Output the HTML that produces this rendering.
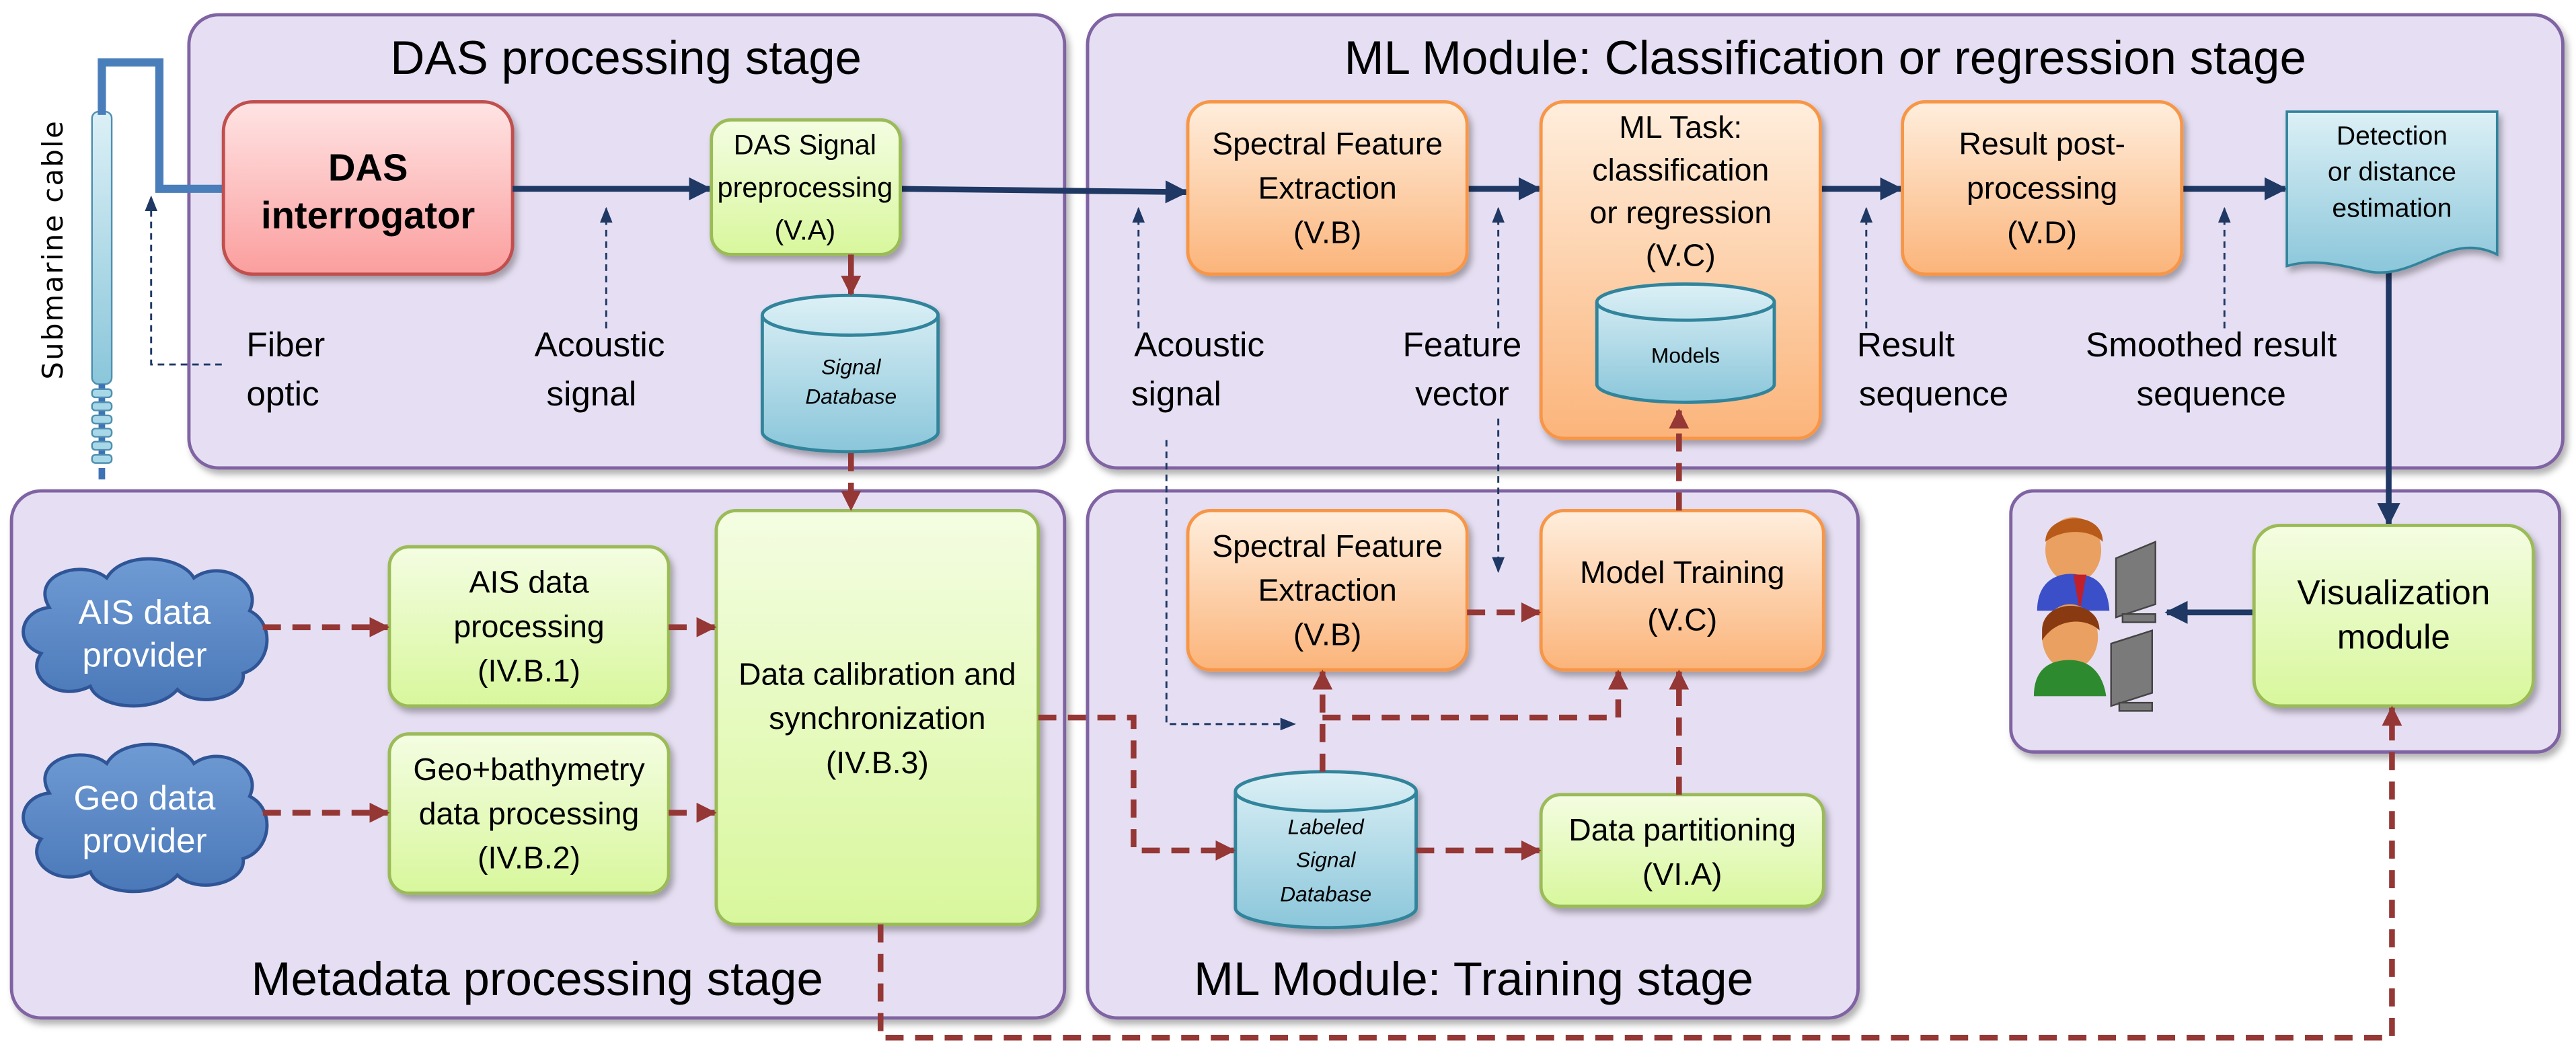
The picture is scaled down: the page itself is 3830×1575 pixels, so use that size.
<!DOCTYPE html>
<html><head><meta charset="utf-8"><style>
html,body{margin:0;padding:0;background:#fff;}
svg{display:block;}
text{font-family:"Liberation Sans Narrow","Liberation Sans",sans-serif;fill:#000;}
</style></head><body>
<svg width="3830" height="1575" viewBox="0 0 1568 645" preserveAspectRatio="none" xmlns="http://www.w3.org/2000/svg">
<defs>
<linearGradient id="gr" x1="0" y1="0" x2="0" y2="1"><stop offset="0" stop-color="#ffe4e4"/><stop offset="1" stop-color="#fb9e9e"/></linearGradient>
<linearGradient id="gg" x1="0" y1="0" x2="0" y2="1"><stop offset="0" stop-color="#f4fde2"/><stop offset="1" stop-color="#d8f79c"/></linearGradient>
<linearGradient id="go" x1="0" y1="0" x2="0" y2="1"><stop offset="0" stop-color="#ffeedd"/><stop offset="1" stop-color="#fbb47a"/></linearGradient>
<linearGradient id="gb" x1="0" y1="0" x2="0" y2="1"><stop offset="0" stop-color="#dcf0f6"/><stop offset="1" stop-color="#8ac6da"/></linearGradient>
<linearGradient id="gc" x1="0" y1="0" x2="0" y2="1"><stop offset="0" stop-color="#6f9bd4"/><stop offset="1" stop-color="#4a78b8"/></linearGradient>
<filter id="sh" x="-10%" y="-10%" width="130%" height="130%"><feDropShadow dx="2" dy="3" stdDeviation="2" flood-color="#000" flood-opacity="0.3"/></filter>
<marker id="an" viewBox="0 0 10 10" refX="9" refY="5" markerWidth="4" markerHeight="4" orient="auto"><path d="M0,0L10,5L0,10z" fill="#1f3864"/></marker>
<marker id="ant" viewBox="0 0 10 10" refX="9" refY="5" markerWidth="8" markerHeight="8" orient="auto"><path d="M0,1L10,5L0,9z" fill="#1f3864"/></marker>
<marker id="ar" viewBox="0 0 10 10" refX="9" refY="5" markerWidth="3.5" markerHeight="3.5" orient="auto"><path d="M0,0L10,5L0,10z" fill="#953735"/></marker>
</defs>

<g fill="#e6dff3" stroke="#8064a2" stroke-width="2" filter="url(#sh)">
<rect x="115" y="9" width="533" height="276" rx="18"/>
<rect x="662" y="9" width="898" height="276" rx="18"/>
<rect x="7" y="299" width="641" height="321" rx="18"/>
<rect x="662" y="299" width="469" height="321" rx="18"/>
<rect x="1224" y="299" width="334" height="159" rx="14"/>
</g>
<g font-size="29" text-anchor="middle">
<text x="381" y="45">DAS processing stage</text>
<text x="1111" y="45">ML Module: Classification or regression stage</text>
<text x="327" y="606">Metadata processing stage</text>
<text x="897" y="606">ML Module: Training stage</text>
</g>

<text x="38" y="152" font-size="17" text-anchor="middle" transform="rotate(-90 38 152)" style="font-family:'DejaVu Sans',sans-serif;letter-spacing:1px">Submarine cable</text>
<rect x="56" y="68" width="12" height="166" rx="4" fill="url(#gb)" stroke="#4f90b0" stroke-width="1"/>
<line x1="62" y1="234" x2="62" y2="282" stroke="#3e72b5" stroke-width="4"/>
<line x1="62" y1="285" x2="62" y2="292" stroke="#3e72b5" stroke-width="4"/>
<g fill="#a8d8e8" stroke="#4f90b0" stroke-width="1">
<rect x="56" y="237" width="12" height="5" rx="2"/><rect x="56" y="245" width="12" height="5" rx="2"/><rect x="56" y="253" width="12" height="5" rx="2"/>
<rect x="56" y="261" width="12" height="5" rx="2"/><rect x="56" y="269" width="12" height="5" rx="2"/><rect x="56" y="277" width="12" height="5" rx="2"/>
</g>
<path d="M62,70 V38 H97 V115 H136" fill="none" stroke="#4a7ebb" stroke-width="5"/>
<path d="M135,222 H92 V120" fill="none" stroke="#1f3864" stroke-width="1.2" stroke-dasharray="4 3" marker-end="url(#ant)"/>

<rect x="136" y="62" width="176" height="105" rx="18" fill="url(#gr)" stroke="#c0504d" stroke-width="2" filter="url(#sh)"/>
<text x="224" y="110" font-size="23" font-weight="bold" text-anchor="middle">DAS</text>
<text x="224" y="139" font-size="23" font-weight="bold" text-anchor="middle">interrogator</text>
<text x="150" y="217" font-size="21">Fiber</text><text x="150" y="247" font-size="21">optic</text>
<text x="365" y="217" font-size="21" text-anchor="middle">Acoustic</text><text x="360" y="247" font-size="21" text-anchor="middle">signal</text>

<g stroke="#1f3864" stroke-width="3.5" fill="none" marker-end="url(#an)">
<line x1="312" y1="115" x2="432" y2="115"/>
<line x1="548" y1="115" x2="722" y2="117"/>
<line x1="893" y1="115" x2="937" y2="115"/>
<line x1="1108" y1="115" x2="1157" y2="115"/>
<line x1="1328" y1="115" x2="1391" y2="115"/>
<line x1="1454" y1="160" x2="1454" y2="319"/>
<line x1="1372" y1="373" x2="1319" y2="373"/>
</g>
<g stroke="#1f3864" stroke-width="1.2" stroke-dasharray="4 3" fill="none" marker-end="url(#ant)">
<line x1="369" y1="200" x2="369" y2="127"/>
<line x1="693" y1="200" x2="693" y2="127"/>
<line x1="912" y1="200" x2="912" y2="127"/>
<line x1="1136" y1="200" x2="1136" y2="127"/>
<line x1="1354" y1="200" x2="1354" y2="127"/>
<path d="M710,268 V441 H788"/>
<line x1="912" y1="255" x2="912" y2="348"/>
</g>

<rect x="433" y="73" width="115" height="82" rx="12" fill="url(#gg)" stroke="#9bbb59" stroke-width="2" filter="url(#sh)"/>
<g font-size="17" text-anchor="middle"><text x="490" y="94">DAS Signal</text><text x="490" y="120">preprocessing</text><text x="490" y="146">(V.A)</text></g>

<g fill="url(#gb)" stroke="#31849b" stroke-width="2" filter="url(#sh)">
<path d="M464,192 V263 A53,12 0 0 0 571,263 V192 A53,12 0 0 0 464,192 Z"/>
<path d="M752,482 V553 A55,12 0 0 0 862,553 V482 A55,12 0 0 0 752,482 Z"/>
</g>
<g fill="none" stroke="#31849b" stroke-width="2">
<path d="M464,192 A53,12 0 0 0 571,192"/><path d="M752,482 A55,12 0 0 0 862,482"/>
</g>
<g font-size="13" font-style="italic" text-anchor="middle">
<text x="518" y="228">Signal</text><text x="518" y="246">Database</text>
<text x="807" y="508">Labeled</text><text x="807" y="528">Signal</text><text x="807" y="549">Database</text>
</g>

<g fill="url(#go)" stroke="#f79646" stroke-width="2" filter="url(#sh)">
<rect x="723" y="62" width="170" height="105" rx="14"/>
<rect x="1158" y="62" width="170" height="105" rx="14"/>
<rect x="723" y="311" width="170" height="97" rx="14"/>
<rect x="938" y="311" width="172" height="97" rx="14"/>
<rect x="938" y="62" width="170" height="205" rx="14"/>
</g>
<g fill="url(#gb)" stroke="#31849b" stroke-width="2"><path d="M972,184 V234 A54,11 0 0 0 1080,234 V184 A54,11 0 0 0 972,184 Z"/></g>
<path d="M972,184 A54,11 0 0 0 1080,184" fill="none" stroke="#31849b" stroke-width="2"/>
<text x="1026" y="221" font-size="13" text-anchor="middle">Models</text>
<g font-size="19" text-anchor="middle">
<text x="808" y="94">Spectral Feature</text><text x="808" y="121">Extraction</text><text x="808" y="148">(V.B)</text>
<text x="1023" y="84">ML Task:</text><text x="1023" y="110">classification</text><text x="1023" y="136">or regression</text><text x="1023" y="162">(V.C)</text>
<text x="1243" y="94">Result post-</text><text x="1243" y="121">processing</text><text x="1243" y="148">(V.D)</text>
<text x="808" y="339">Spectral Feature</text><text x="808" y="366">Extraction</text><text x="808" y="393">(V.B)</text>
<text x="1024" y="355">Model Training</text><text x="1024" y="384">(V.C)</text>
</g>

<path d="M1392,68 H1520 V155 C1490,140 1470,172 1440,165 C1420,160 1405,158 1392,162 Z" fill="url(#gb)" stroke="#31849b" stroke-width="1.5" filter="url(#sh)"/>
<g font-size="16" text-anchor="middle"><text x="1456" y="88">Detection</text><text x="1456" y="110">or distance</text><text x="1456" y="132">estimation</text></g>

<g font-size="21" text-anchor="middle">
<text x="730" y="217">Acoustic</text><text x="716" y="247">signal</text>
<text x="890" y="217">Feature</text><text x="890" y="247">vector</text>
<text x="1160" y="217">Result</text><text x="1177" y="247">sequence</text>
<text x="1346" y="217">Smoothed result</text><text x="1346" y="247">sequence</text>
</g>

<g fill="url(#gc)" stroke="#2f5597" stroke-width="2">
<path d="M30,370 C18,350 50,340 65,352 C75,335 110,338 118,352 C135,340 160,355 152,372 C168,380 165,405 148,410 C150,425 120,432 108,420 C95,435 60,432 55,418 C35,428 15,412 25,398 C8,392 12,372 30,370 Z"/>
<path d="M30,483 C18,463 50,453 65,465 C75,448 110,451 118,465 C135,453 160,468 152,485 C168,493 165,518 148,523 C150,538 120,545 108,533 C95,548 60,545 55,531 C35,541 15,525 25,511 C8,505 12,485 30,483 Z"/>
</g>
<g font-size="21" text-anchor="middle">
<text x="88" y="380" style="fill:#fff">AIS data</text><text x="88" y="406" style="fill:#fff">provider</text>
<text x="88" y="493" style="fill:#fff">Geo data</text><text x="88" y="519" style="fill:#fff">provider</text>
</g>

<g fill="url(#gg)" stroke="#9bbb59" stroke-width="2" filter="url(#sh)">
<rect x="237" y="333" width="170" height="97" rx="12"/>
<rect x="237" y="447" width="170" height="97" rx="12"/>
<rect x="436" y="311" width="196" height="252" rx="12"/>
<rect x="938" y="484" width="172" height="68" rx="12"/>
<rect x="1372" y="320" width="170" height="110" rx="16"/>
</g>
<g font-size="19" text-anchor="middle">
<text x="322" y="361">AIS data</text><text x="322" y="388">processing</text><text x="322" y="415">(IV.B.1)</text>
<text x="322" y="475">Geo+bathymetry</text><text x="322" y="502">data processing</text><text x="322" y="529">(IV.B.2)</text>
<text x="534" y="417">Data calibration and</text><text x="534" y="444">synchronization</text><text x="534" y="471">(IV.B.3)</text>
<text x="1024" y="512">Data partitioning</text><text x="1024" y="539">(VI.A)</text>
<text x="1457" y="368" font-size="21">Visualization</text><text x="1457" y="395" font-size="21">module</text>
</g>

<line x1="518" y1="155" x2="518" y2="179" stroke="#953735" stroke-width="3.5" marker-end="url(#ar)"/>
<g stroke="#953735" stroke-width="3.5" fill="none" stroke-dasharray="11 7" marker-end="url(#ar)">
<line x1="518" y1="276" x2="518" y2="310"/>
<line x1="160" y1="382" x2="236" y2="382"/>
<line x1="407" y1="382" x2="435" y2="382"/>
<line x1="160" y1="495" x2="236" y2="495"/>
<line x1="407" y1="495" x2="435" y2="495"/>
<path d="M632,437 H690 V518 H751"/>
<path d="M536,563 V632 H1456 V431"/>
<line x1="893" y1="373" x2="937" y2="373"/>
<line x1="805" y1="470" x2="805" y2="409"/>
<path d="M805,437 H985 V409"/>
<line x1="862" y1="518" x2="937" y2="518"/>
<line x1="1022" y1="484" x2="1022" y2="409"/>
<line x1="1022" y1="311" x2="1022" y2="250"/>
</g>

<g>
<ellipse cx="1262" cy="335" rx="17" ry="20" fill="#e9a060"/>
<path d="M1245,330 C1245,312 1280,310 1280,330 C1272,322 1255,322 1245,330Z" fill="#b85a1a"/>
<path d="M1240,372 C1240,352 1255,348 1265,350 C1275,350 1283,356 1284,372 Z" fill="#3b4fc8"/>
<path d="M1262,350 L1266,372 L1270,350Z" fill="#c0202a"/>
<ellipse cx="1260" cy="388" rx="17" ry="20" fill="#e9a060"/>
<path d="M1243,384 C1243,364 1278,364 1278,384 C1270,376 1252,376 1243,390Z" fill="#8a3a10"/>
<path d="M1238,424 C1238,404 1252,402 1260,402 C1272,402 1280,410 1282,424 Z" fill="#2e8a2e"/>
<g fill="#7a7a7a" stroke="#444" stroke-width="1">
<path d="M1288,340 L1312,330 V368 L1288,376 Z"/><rect x="1292" y="374" width="20" height="5"/>
<path d="M1285,392 L1310,384 V422 L1285,430 Z"/><rect x="1290" y="428" width="20" height="5"/>
</g>
</g>
</svg>
</body></html>
